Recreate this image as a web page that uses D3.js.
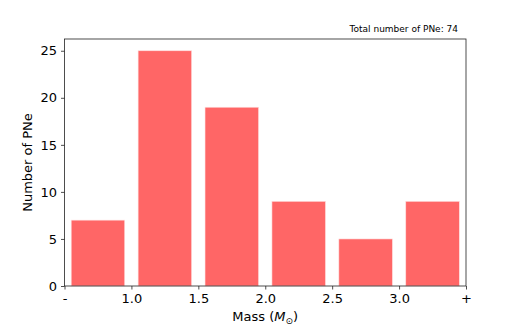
<!DOCTYPE html>
<html><head><meta charset="utf-8">
<script src="https://cdn.jsdelivr.net/npm/d3@7"></script>
<style>body{margin:0;background:#fff}svg{display:block}text{font-family:"DejaVu Sans",sans-serif;fill:#000}</style>
</head><body>
<script>
const bins = [0,1,2,3,4,5];
const counts = [7,25,19,9,5,9];
const edgeLabels = ["-","1.0","1.5","2.0","2.5","3.0","+"];
const yTicks = [0,5,10,15,20,25];
const totalLabel = "Total number of PNe: 74";

const W=518,H=327;
const m={l:64.5,r:466,t:39,b:286};
const svg=d3.select("body").append("svg").attr("width",W).attr("height",H);
const x=d3.scaleLinear().domain([0,6]).range([m.l,m.r]);
const y=d3.scaleLinear().domain([0,26.25]).range([m.b,m.t]);

svg.selectAll("rect.bar").data(bins).enter().append("rect")
  .attr("x",d=>x(d+0.1)).attr("width",x(0.8)-x(0))
  .attr("y",(d,i)=>y(counts[i])).attr("height",(d,i)=>y(0)-y(counts[i]))
  .attr("fill","#ff6666").attr("stroke","#ffe0e0").attr("stroke-width",0.6);

// frame
svg.append("rect").attr("x",m.l).attr("y",m.t).attr("width",m.r-m.l).attr("height",m.b-m.t)
  .attr("fill","none").attr("stroke","#222").attr("stroke-width",0.8);

const xa=svg.append("g").attr("transform",`translate(0,${m.b})`)
  .call(d3.axisBottom(x).tickValues([0,1,2,3,4,5,6]).tickFormat((d,i)=>edgeLabels[i]).tickSize(3.5).tickPadding(4));
const ya=svg.append("g").attr("transform",`translate(${m.l},0)`)
  .call(d3.axisLeft(y).tickValues(yTicks).tickSize(3.5).tickPadding(4));
[xa,ya].forEach(a=>{a.select(".domain").remove();a.selectAll("line").attr("stroke","#222").attr("stroke-width",0.8);
  a.selectAll("text").style("font-size","13px").style("font-family","DejaVu Sans").attr("fill","#000");});

svg.append("text").attr("x",(m.l+m.r)/2).attr("y",321).attr("text-anchor","middle").style("font-size","13px")
  .html('Mass (<tspan font-style="italic">M</tspan><tspan font-size="9px" dy="3">⊙</tspan><tspan dy="-3">)</tspan>');
svg.append("text").attr("transform",`translate(32,${(m.t+m.b)/2}) rotate(-90)`).attr("text-anchor","middle")
  .style("font-size","13px").text("Number of PNe");
svg.append("text").attr("x",458).attr("y",32).attr("text-anchor","end").style("font-size","9px").text(totalLabel);
</script>
</body></html>
